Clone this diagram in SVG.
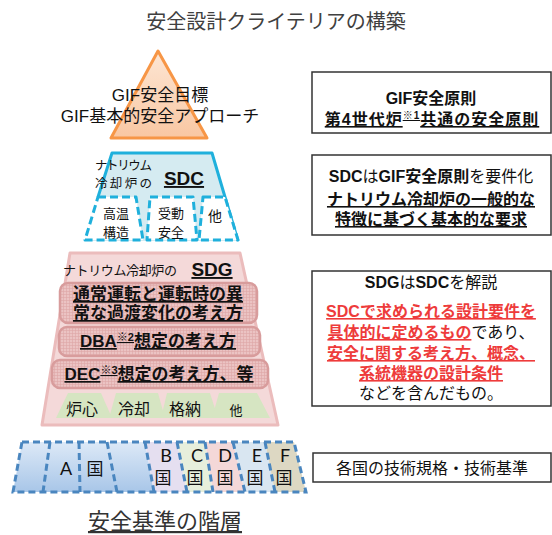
<svg xmlns="http://www.w3.org/2000/svg" width="552" height="535" viewBox="0 0 552 535">
<style>
text{font-family:"Liberation Sans","Noto Sans CJK JP",sans-serif;fill:#111;}
.jp{font-family:"Noto Sans CJK JP",sans-serif;}
.b{font-weight:bold;}
.u{text-decoration:underline;}
.box{fill:#fff;stroke:#333;stroke-width:1.5;}
.red{fill:#ee3b3b;}
.sdcd{fill:#fff;stroke:#1fb0dc;stroke-width:3;stroke-dasharray:8 4;stroke-linejoin:round;}
.cd{fill:none;stroke:#4a86bf;stroke-width:3;stroke-dasharray:7 4;}
.rr{fill:url(#hatch);stroke:#d89c9c;stroke-width:2.5;}
.gr{fill:#d6e5c2;}
.cty{font-family:Lato,"Noto Sans CJK JP",sans-serif;font-size:18px;}
</style>
<defs>
<linearGradient id="tri" x1="0" y1="0" x2="0" y2="1">
<stop offset="0" stop-color="#fde6d4"/><stop offset="1" stop-color="#f9c7a2"/>
</linearGradient>
<linearGradient id="ablue" x1="0" y1="0" x2="0" y2="1">
<stop offset="0" stop-color="#dde9f7"/><stop offset="1" stop-color="#a8c6e8"/>
</linearGradient>
<pattern id="hatch" width="3" height="3" patternUnits="userSpaceOnUse">
<rect width="3" height="3" fill="#ebc3c3"/>
<path d="M0 0.5H3M0.5 0V3" stroke="#dda6a6" stroke-width="0.6"/>
</pattern>
</defs>

<g id="title"><text x="276" y="29" text-anchor="middle" class="jp" style="font-size:20px;fill:#404040">安全設計クライテリアの構築</text></g>

<g id="gif-triangle">
<polygon points="158,51 207,138 111,138" fill="url(#tri)" stroke="#f79646" stroke-width="3" stroke-linejoin="round"/>
<text x="160" y="101" text-anchor="middle" style="font-size:17px">GIF安全目標</text>
<text x="160" y="122" text-anchor="middle" style="font-size:17px">GIF基本的安全アプローチ</text>
</g>

<g id="sdc-trapezoid">
<polygon points="112,153 212,153 238,241 85,241" fill="#d5ebf1"/>
<path d="M98,197 L112,153 L212,153 L238,241" fill="none" stroke="#1fb0dc" stroke-width="3" stroke-linejoin="round"/>
<text x="95" y="170" class="jp" style="font-size:12.5px" textLength="57">ナトリウム</text>
<text x="95" y="188" class="jp" style="font-size:12.5px" textLength="57">冷却炉の</text>
<text x="184" y="185" text-anchor="middle" class="b u" style="font-size:19px">SDC</text>
<polygon class="sdcd" points="98,197 136,197 143,240 85,240"/>
<polygon class="sdcd" points="150,197 193,197 197,240 147,240"/>
<polygon class="sdcd" points="203,197 225,197 238,240 199,240"/>
<text x="116" y="218" text-anchor="middle" class="jp" style="font-size:13px">高温</text>
<text x="116" y="237" text-anchor="middle" class="jp" style="font-size:13px">構造</text>
<text x="171" y="218" text-anchor="middle" class="jp" style="font-size:13px">受動</text>
<text x="171" y="237" text-anchor="middle" class="jp" style="font-size:13px">安全</text>
<text x="215" y="221" text-anchor="middle" class="jp" style="font-size:14px">他</text>
</g>

<g id="sdg-trapezoid">
<polygon points="70,253 240,253 278,425 42,425" fill="#f4d9d9" stroke="#ebbcbc" stroke-width="3" stroke-linejoin="round"/>
<text x="63" y="275" class="jp" style="font-size:13px" textLength="114">ナトリウム冷却炉の</text>
<text x="212" y="276" text-anchor="middle" class="b u" style="font-size:19px">SDG</text>
<rect class="rr" x="60" y="283" width="197" height="40" rx="8"/>
<text x="158" y="300" text-anchor="middle" class="b u" style="font-size:17px">通常運転と運転時の異</text>
<text x="158" y="319" text-anchor="middle" class="b u" style="font-size:17px">常な過渡変化の考え方</text>
<rect class="rr" x="59" y="327" width="201" height="29" rx="8"/>
<text x="158" y="347" text-anchor="middle" class="b u" style="font-size:17px">DBA<tspan style="font-size:11px" dy="-6">※2</tspan><tspan dy="6">想定の考え方</tspan></text>
<rect class="rr" x="52" y="360" width="216" height="28" rx="8"/>
<text x="159" y="380" text-anchor="middle" class="b u" style="font-size:17px">DEC<tspan style="font-size:11px" dy="-6">※3</tspan><tspan dy="6">想定の考え方、等</tspan></text>
<polygon class="gr" points="68,393 101,393 112,418 56,418"/>
<polygon class="gr" points="116,393 158,393 165,418 109,418"/>
<polygon class="gr" points="167,393 210,393 218,418 161,418"/>
<polygon class="gr" points="219,393 257,393 270,418 212,418"/>
<text x="82" y="415" text-anchor="middle" class="jp" style="font-size:16px">炉心</text>
<text x="134" y="415" text-anchor="middle" class="jp" style="font-size:16px">冷却</text>
<text x="185" y="415" text-anchor="middle" class="jp" style="font-size:16px">格納</text>
<text x="236" y="415" text-anchor="middle" class="jp" style="font-size:13px">他</text>
</g>

<g id="countries">
<polygon points="22,442 145,442 154,492 13,492" fill="url(#ablue)"/>
<polygon points="145,442 177,442 187,492 154,492" fill="#e5dff0"/>
<polygon points="177,442 205,442 213,492 187,492" fill="#e7efdc"/>
<polygon points="205,442 233,442 245,492 213,492" fill="#f4d8d8"/>
<polygon points="233,442 265,442 275,492 245,492" fill="#d9e6f1"/>
<polygon points="265,442 294,442 306,492 275,492" fill="#ddd8c3"/>
<polygon class="cd" points="22,442 294,442 306,492 13,492"/>
<path class="cd" d="M50,442L43,492M79,442L80,492M107,442L117,492M145,442L154,492M177,442L187,492M205,442L213,492M233,442L245,492M265,442L275,492"/>
<text x="66" y="475" text-anchor="middle" class="cty">A</text>
<text x="95" y="475" text-anchor="middle" class="cty" style="font-size:17px">国</text>
<text x="166" y="462" text-anchor="middle" class="cty">B</text>
<text x="163" y="484" text-anchor="middle" class="cty" style="font-size:17px">国</text>
<text x="197" y="462" text-anchor="middle" class="cty">C</text>
<text x="195" y="484" text-anchor="middle" class="cty" style="font-size:17px">国</text>
<text x="225" y="462" text-anchor="middle" class="cty">D</text>
<text x="225" y="484" text-anchor="middle" class="cty" style="font-size:17px">国</text>
<text x="257" y="462" text-anchor="middle" class="cty">E</text>
<text x="255" y="484" text-anchor="middle" class="cty" style="font-size:17px">国</text>
<text x="285" y="462" text-anchor="middle" class="cty">F</text>
<text x="284" y="484" text-anchor="middle" class="cty" style="font-size:17px">国</text>
</g>

<g id="hierarchy-label"><text x="165" y="529" text-anchor="middle" class="jp u" style="font-size:22px;fill:#333">安全基準の階層</text></g>

<g id="box-gif">
<rect class="box" x="312" y="72" width="239" height="61"/>
<text x="431" y="104" text-anchor="middle" class="b" style="font-size:16px">GIF安全原則</text>
<text x="432" y="125" text-anchor="middle" class="b u" style="font-size:16px;letter-spacing:1px">第4世代炉<tspan style="font-size:10px" dy="-6">※1</tspan><tspan dy="6">共通の安全原則</tspan></text>
</g>

<g id="box-sdc">
<rect class="box" x="312" y="155" width="239" height="80"/>
<text x="431" y="182" text-anchor="middle" style="font-size:16px"><tspan class="b">SDC</tspan>は<tspan class="b">GIF安全原則</tspan>を要件化</text>
<text x="431" y="205" text-anchor="middle" class="b u" style="font-size:16px">ナトリウム冷却炉の一般的な</text>
<text x="431" y="225" text-anchor="middle" class="b u" style="font-size:16px">特徴に基づく基本的な要求</text>
</g>

<g id="box-sdg">
<rect class="box" x="312" y="271" width="239" height="135"/>
<text x="431" y="288" text-anchor="middle" style="font-size:16px"><tspan class="b">SDG</tspan>は<tspan class="b">SDC</tspan>を解説</text>
<text x="431" y="317" text-anchor="middle" class="b u red" style="font-size:16px">SDCで求められる設計要件を</text>
<text x="431" y="338" text-anchor="middle" style="font-size:16px"><tspan class="b u red">具体的に定めるもの</tspan>であり、</text>
<text x="431" y="359" text-anchor="middle" class="b u red" style="font-size:16px">安全に関する考え方、概念、</text>
<text x="431" y="379" text-anchor="middle" class="b u red" style="font-size:16px">系統機器の設計条件</text>
<text x="431" y="399" text-anchor="middle" style="font-size:16px">などを含んだもの。</text>
</g>

<g id="box-national">
<rect class="box" x="313" y="453" width="238" height="29"/>
<text x="432" y="474" text-anchor="middle" style="font-size:16px">各国の技術規格・技術基準</text>
</g>
</svg>
